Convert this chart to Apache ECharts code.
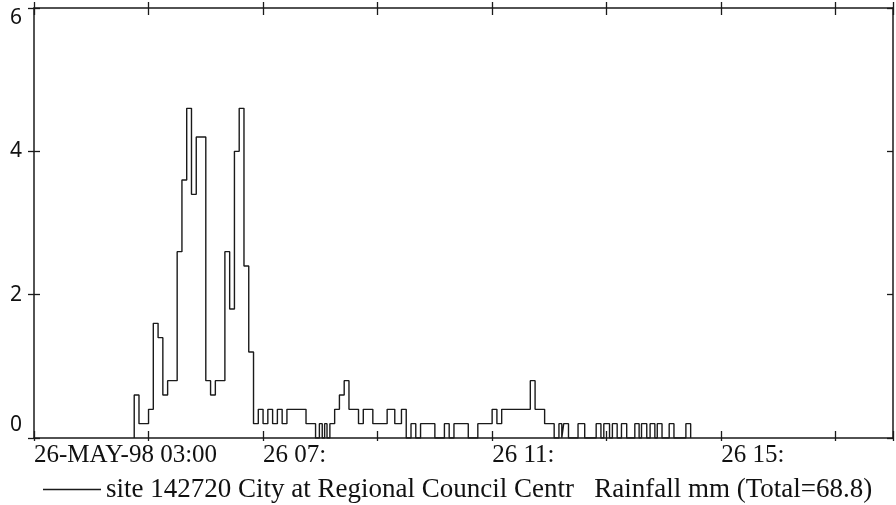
<!DOCTYPE html>
<html>
<head>
<meta charset="utf-8">
<script src="https://cdn.jsdelivr.net/npm/echarts@6/dist/echarts.min.js"></script>
<style>
  html,body{margin:0;padding:0;background:#fff;}
  #rainChart{width:896px;height:505px;}
</style>
</head>
<body>
<div id="rainChart"></div>
<script>
// minutes after 26-MAY-98 03:00 where the 5 minute rainfall changes, value holds until next point
var tMin = [105, 105, 110, 120, 125, 130, 135, 140, 150, 155, 160, 165, 170, 180, 185, 190,
    200, 205, 210, 215, 220, 225, 230, 235, 240, 245, 250, 255, 260, 265, 285, 295,
    299, 302, 304.5, 307, 310, 315, 320, 325, 330, 340, 345, 355, 370, 378, 385, 390,
    395, 400, 405, 420, 430, 435, 440, 455, 465, 480, 485, 490, 520, 525, 535, 545,
    550, 553, 555, 560, 570, 577, 589, 594, 597, 603, 606, 611, 615.5, 621, 629.5, 634,
    636.5, 642, 645.5, 650.5, 653, 658, 665.5, 670.5, 683, 688];
var rainMm = [0, 0.6, 0.2, 0.4, 1.6, 1.4, 0.6, 0.8, 2.6, 3.6, 4.6, 3.4, 4.2, 0.8, 0.6, 0.8,
    2.6, 1.8, 4.0, 4.6, 2.4, 1.2, 0.2, 0.4, 0.2, 0.4, 0.2, 0.4, 0.2, 0.4, 0.2, 0,
    0.2, 0, 0.2, 0, 0.2, 0.4, 0.6, 0.8, 0.4, 0.2, 0.4, 0.2, 0.4, 0.2, 0.4, 0,
    0.2, 0, 0.2, 0, 0.2, 0, 0.2, 0, 0.2, 0.4, 0.2, 0.4, 0.8, 0.4, 0.2, 0,
    0.2, 0, 0.2, 0, 0.2, 0, 0.2, 0, 0.2, 0, 0.2, 0, 0.2, 0, 0.2, 0,
    0.2, 0, 0.2, 0, 0.2, 0, 0.2, 0, 0.2, 0];
// x tick labels, keyed by minutes after 03:00
var xLabelAt = [0, 240, 480, 720];
var xLabelText = ['26-MAY-98 03:00', '26 07:', '26 11:', '26 15:'];
var yTicks = [0, 2, 4, 6];
var seriesName = 'site 142720 City at Regional Council Centr   Rainfall mm (Total=68.8)';

var serif = '"Liberation Serif", "DejaVu Serif", serif';
var sans = '"Noto Sans", "Open Sans", sans-serif';

var chartName = echarts.init(document.getElementById('rainChart'));
var stepData = tMin.map(function(t, i){ return [t, rainMm[i]]; });

var lineCol = '#1a1a1a';
function xAx(pos, inside, len, showLine, showLabel){
    return {
        type: 'value', position: pos, min: 0, max: 900, interval: 120,
        axisLine: {show: showLine, onZero: false, lineStyle: {color: lineCol, width: 1.5}},
        axisTick: {show: true, inside: inside, length: len, lineStyle: {color: lineCol, width: 1.3}},
        splitLine: {show: false},
        axisLabel: {
            show: showLabel, align: 'left', margin: 5,
            color: '#111', fontFamily: serif, fontSize: 25,
            formatter: function(v){
                var i = xLabelAt.indexOf(v);
                return i < 0 ? '' : xLabelText[i];
            }
        }
    };
}
function yAx(pos, inside, showLine, showLabel){
    return {
        type: 'value', position: pos, min: 0, max: 6, interval: 2,
        axisLine: {show: showLine, onZero: false, lineStyle: {color: lineCol, width: 1.5}},
        axisTick: {show: true, inside: inside, length: 6, lineStyle: {color: lineCol, width: 1.3}},
        splitLine: {show: false},
        axisLabel: {
            show: showLabel, margin: 12, color: '#111', fontFamily: sans, fontSize: 21,
            formatter: function(v){
                if(v == yTicks[0]) return '{lo|' + v + '}';
                if(v == yTicks[yTicks.length-1]) return '{hi|' + v + '}';
                return '' + v;
            },
            rich: {
                lo: {fontFamily: sans, fontSize: 21, color: '#111', padding: [0, 0, 26, 0]},
                hi: {fontFamily: sans, fontSize: 21, color: '#111', padding: [20, 0, 0, 0]}
            }
        }
    };
}

var option = {
    animation: false,
    backgroundColor: '#fff',
    grid: {left: 34, right: 1, top: 8, bottom: 67, containLabel: false},
    legend: {
        data: [seriesName],
        left: 38, top: 471,
        icon: 'rect', itemWidth: 58, itemHeight: 1.5, itemGap: 8,
        textStyle: {fontFamily: serif, fontSize: 27, color: '#111'}
    },
    xAxis: [
        xAx('bottom', true, 7, true, true),
        xAx('bottom', false, 3, false, false),
        xAx('top', true, 7, true, false),
        xAx('top', false, 6, false, false)
    ],
    yAxis: [
        yAx('left', false, true, true),
        yAx('left', true, false, false),
        yAx('right', true, true, false)
    ],
    series: [{
        name: seriesName,
        type: 'line',
        step: 'end',
        data: stepData,
        showSymbol: false,
        color: lineCol,
        lineStyle: {color: lineCol, width: 1.4}
    }]
};
chartName.setOption(option, true);
window.addEventListener('resize', function(){
    chartName.resize();
});
</script>
</body>
</html>
